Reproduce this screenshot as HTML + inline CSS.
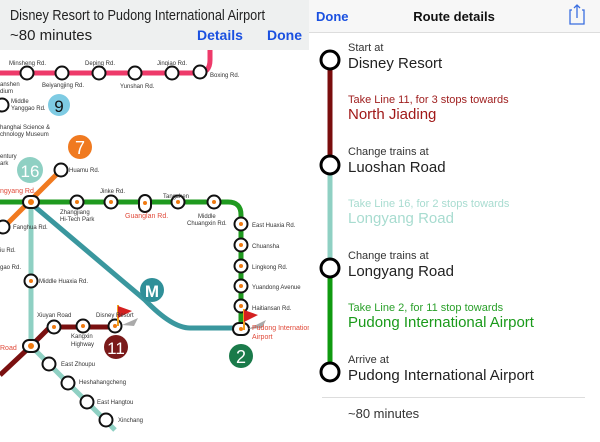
<!DOCTYPE html>
<html><head><meta charset="utf-8"><style>
body{margin:0;width:600px;height:442px;overflow:hidden;background:#fff;font-family:"Liberation Sans",sans-serif;position:relative}
svg{position:absolute;left:0;top:0}
.t{font-family:"Liberation Sans",sans-serif}
</style></head><body>
<svg width="600" height="442" viewBox="0 0 600 442">
<defs>
<g id="st"><circle r="6.5" fill="#fff" stroke="#111" stroke-width="2"/></g>
<g id="so"><circle r="6.5" fill="#fff" stroke="#111" stroke-width="2"/><circle r="2" fill="#f07a10"/></g>
</defs>
<path d="M0 73 H198 Q210 73 210 60 V45" stroke="#ee3a6a" stroke-width="5" fill="none"/>
<path d="M0 202 H228 Q241 202 241 215 V330" stroke="#1f9a1f" stroke-width="5" fill="none"/>
<path d="M61 170 L3 228" stroke="#f07a20" stroke-width="5" fill="none"/>
<path d="M31 202 V346 L115 430" stroke="#8fd0c3" stroke-width="5" fill="none"/>
<path d="M34 206 L145 300 Q172 328 190 328 H241" stroke="#3a979e" stroke-width="5" fill="none"/>
<path d="M0 375 L31 346 L50 327 H115" stroke="#7a1010" stroke-width="5" fill="none"/>
<use href="#st" x="27" y="73"/><use href="#st" x="62" y="73"/><use href="#st" x="99" y="73"/><use href="#st" x="135" y="73"/><use href="#st" x="172" y="73"/><use href="#st" x="200" y="72"/>
<use href="#st" x="2" y="105"/><use href="#st" x="61" y="170"/><use href="#st" x="3" y="227"/>
<use href="#so" x="77" y="202"/><use href="#so" x="111" y="202"/><use href="#so" x="178" y="202"/><use href="#so" x="214" y="202"/>
<rect x="139" y="195" width="12" height="17" rx="6" fill="#fff" stroke="#111" stroke-width="2"/><circle cx="145" cy="203" r="2" fill="#f07a10"/>
<use href="#so" x="241" y="224"/><use href="#so" x="241" y="245"/><use href="#so" x="241" y="266"/><use href="#so" x="241" y="286"/><use href="#so" x="241" y="306"/>
<rect x="233" y="323" width="16" height="12" rx="6" fill="#fff" stroke="#111" stroke-width="2"/><circle cx="241" cy="329" r="2" fill="#f07a10"/>
<rect x="23" y="196" width="16" height="12" rx="6" fill="#fff" stroke="#111" stroke-width="2"/><circle cx="31" cy="202" r="3" fill="#f07a10"/>
<use href="#so" x="31" y="281"/>
<rect x="23" y="340" width="16" height="12" rx="6" fill="#fff" stroke="#111" stroke-width="2"/><circle cx="31" cy="346" r="3" fill="#f07a10"/>
<use href="#st" x="49" y="364"/><use href="#st" x="68" y="383"/><use href="#st" x="87" y="402"/><use href="#st" x="106" y="420"/>
<use href="#so" x="54" y="327"/><use href="#so" x="83" y="326"/><use href="#so" x="115" y="326"/>
<line x1="118" y1="305" x2="118" y2="326" stroke="#f0a020" stroke-width="2"/><path d="M118 306 L132 311 L118 318Z" fill="#d42020"/><path d="M122 325 L138 318 L134 326Z" fill="#aaa"/>
<line x1="244" y1="309" x2="244" y2="330" stroke="#f0a020" stroke-width="2"/><path d="M244 310 L258 315 L244 322Z" fill="#d42020"/><path d="M248 329 L266 320 L262 328Z" fill="#aaa"/>
<circle cx="59" cy="105" r="11" fill="#7ecbe3"/><text x="59" y="112" font-size="17" text-anchor="middle" fill="#111" class="t">9</text>
<circle cx="80" cy="147" r="12" fill="#f07a20"/><text x="80" y="154" font-size="18" text-anchor="middle" fill="#fff" class="t">7</text>
<circle cx="30" cy="170" r="13" fill="#8fd0c3"/><text x="30" y="177" font-size="17" text-anchor="middle" fill="#fff" class="t">16</text>
<circle cx="152" cy="290" r="12" fill="#2f8f98"/><text x="152" y="297" font-size="17" text-anchor="middle" fill="#fff" font-weight="bold" class="t">M</text>
<circle cx="116" cy="347" r="12" fill="#7a1a1a"/><text x="116" y="354" font-size="17" text-anchor="middle" fill="#fff" class="t">11</text>
<circle cx="241" cy="356" r="12" fill="#1a7a4a"/><text x="241" y="363" font-size="18" text-anchor="middle" fill="#fff" class="t">2</text>
<g font-size="6" fill="#333" class="t">
<text x="9" y="65">Minsheng Rd.</text><text x="42" y="87">Beiyangjing Rd.</text><text x="85" y="65">Deping Rd.</text><text x="120" y="88">Yunshan Rd.</text><text x="157" y="65">Jinqiao Rd.</text><text x="210" y="77">Boxing Rd.</text>
<text x="0" y="86">anshen</text><text x="0" y="93">dium</text>
<text x="11" y="103">Middle</text><text x="11" y="110">Yanggao Rd.</text>
<text x="0" y="129">hanghai Science &amp;</text><text x="0" y="136">chnology Museum</text>
<text x="0" y="158">entury</text><text x="0" y="165">ark</text>
<text x="69" y="172">Huamu Rd.</text>
<text x="100" y="193">Jinke Rd.</text><text x="163" y="198">Tangzhen</text>
<text x="60" y="214">Zhangjiang</text><text x="60" y="221">Hi-Tech Park</text>
<text x="198" y="218">Middle</text><text x="187" y="225">Chuangxin Rd.</text>
<text x="252" y="227">East Huaxia Rd.</text><text x="252" y="248">Chuansha</text><text x="252" y="269">Lingkong Rd.</text><text x="252" y="289">Yuandong Avenue</text><text x="252" y="310">Haitiansan Rd.</text>
<text x="13" y="229">Fanghua Rd.</text><text x="0" y="252">iu Rd.</text><text x="0" y="269">gao Rd.</text>
<text x="39" y="283">Middle Huaxia Rd.</text>
<text x="37" y="317">Xiuyan Road</text><text x="96" y="317">Disney Resort</text>
<text x="71" y="338">Kangxin</text><text x="71" y="346">Highway</text>
<text x="61" y="366">East Zhoupu</text><text x="79" y="384">Heshahangcheng</text><text x="97" y="404">East Hangtou</text><text x="118" y="422">Xinchang</text>
</g>
<g font-size="7" fill="#e04a3a" class="t">
<text x="0" y="193">ngyang Rd.</text><text x="125" y="218">Guanglan Rd.</text><text x="252" y="330">Pudong International</text><text x="252" y="339">Airport</text><text x="0" y="350">Road</text>
</g>
<rect x="0" y="0" width="309" height="50" fill="#eef0f0"/>
<text x="10" y="20" font-size="15" fill="#222" class="t" textLength="255" lengthAdjust="spacingAndGlyphs">Disney Resort to Pudong International Airport</text>
<text x="10" y="40" font-size="15" fill="#222" class="t">~80 minutes</text>
<text x="197" y="40" font-size="14" fill="#1a50e0" font-weight="bold" class="t">Details</text>
<text x="267" y="40" font-size="14" fill="#1a50e0" font-weight="bold" class="t">Done</text>
<rect x="309" y="0" width="291" height="442" fill="#fff"/>
<rect x="309" y="0" width="291" height="32" fill="#f7f7f7"/>
<line x1="309" y1="32.5" x2="600" y2="32.5" stroke="#ddd"/>
<text x="316" y="21" font-size="13" fill="#1a50e0" font-weight="bold" class="t">Done</text>
<text x="454" y="21" font-size="13" fill="#111" font-weight="bold" text-anchor="middle" class="t">Route details</text>
<g stroke="#3a6ee0" stroke-width="1.3" fill="none"><path d="M572 10 H570 V24 H584 V10 H582"/><path d="M577 18 V5 M574 8 L577 5 L580 8"/></g>
<line x1="330" y1="60" x2="330" y2="165" stroke="#7a0c0c" stroke-width="5"/>
<line x1="330" y1="165" x2="330" y2="268" stroke="#8fd0c3" stroke-width="5"/>
<line x1="330" y1="268" x2="330" y2="372" stroke="#109a10" stroke-width="5"/>
<g fill="#fff" stroke="#000" stroke-width="3"><circle cx="330" cy="60" r="9"/><circle cx="330" cy="165" r="9"/><circle cx="330" cy="268" r="9"/><circle cx="330" cy="372" r="9"/></g>
<g class="t">
<text x="348" y="51" font-size="11" fill="#333">Start at</text><text x="348" y="68" font-size="15" fill="#222">Disney Resort</text>
<text x="348" y="103" font-size="11" fill="#a02020">Take Line 11, for 3 stops towards</text><text x="348" y="119" font-size="15" fill="#a01818">North Jiading</text>
<text x="348" y="155" font-size="11" fill="#333">Change trains at</text><text x="348" y="172" font-size="15" fill="#222">Luoshan Road</text>
<text x="348" y="207" font-size="11" fill="#a8dcd0">Take Line 16, for 2 stops towards</text><text x="348" y="223" font-size="15" fill="#a8dcd0">Longyang Road</text>
<text x="348" y="259" font-size="11" fill="#333">Change trains at</text><text x="348" y="276" font-size="15" fill="#222">Longyang Road</text>
<text x="348" y="311" font-size="11" fill="#2aa02a">Take Line 2, for 11 stop towards</text><text x="348" y="327" font-size="15" fill="#1a9a1a">Pudong International Airport</text>
<text x="348" y="363" font-size="11" fill="#333">Arrive at</text><text x="348" y="380" font-size="15" fill="#222">Pudong International Airport</text>
<text x="348" y="418" font-size="13" fill="#333">~80 minutes</text>
</g>
<line x1="322" y1="397.5" x2="585" y2="397.5" stroke="#ddd"/>
</svg>
</body></html>
